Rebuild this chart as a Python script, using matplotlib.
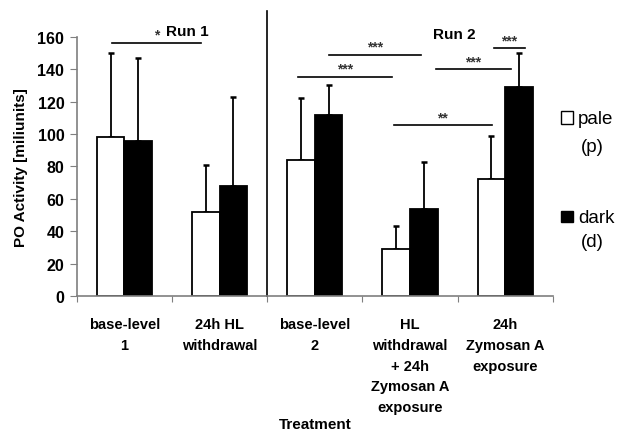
import matplotlib
matplotlib.use('Agg')
from matplotlib import pyplot as plt
from matplotlib.patches import Rectangle
import numpy as np

# categorias e valores
categorias = ['base-level\n1', '24h HL\nwithdrawal', 'base-level\n2',
              'HL\nwithdrawal\n+ 24h\nZymosan A\nexposure', '24h\nZymosan A\nexposure']
pale = [98, 52, 84, 29, 72]
pale_err = [52, 29, 38, 14, 27]
dark = [96, 68, 112, 54, 129]
dark_err = [51, 55, 18, 29, 21]

# linhas de significancia: (x0, x1, y, texto)
sig_x0 = [-0.13, 2.15, 1.82, 3.27, 3.88, 2.83]
sig_x1 = [0.81, 3.12, 2.81, 4.06, 4.21, 3.86]
sig_y = [156.5, 149, 135.5, 140, 153, 105.5]
sig_txt = ['*', '***', '***', '***', '***', '**']

plt.rcParams['font.family'] = ['Liberation Sans', 'DejaVu Sans']
plt.rcParams['font.weight'] = 'bold'
plt.rcParams['axes.labelweight'] = 'bold'

fig = plt.figure(figsize=(6.19, 4.35), dpi=100)
ax = fig.add_axes([0.124, 0.317, 0.769, 0.596])

x = np.arange(len(categorias))
w = 0.29
cinza = '#7f7f7f'

ax.bar(x - w / 2, pale, w, color='white', edgecolor='black', linewidth=1.3, zorder=2)
ax.bar(x + w / 2, dark, w, color='black', edgecolor='black', linewidth=1.3, zorder=2)
ax.errorbar(x - w / 2, pale, yerr=[np.zeros(5), pale_err], fmt='none', ecolor='black',
            elinewidth=1.3, capsize=2.5, capthick=1.8, zorder=1)
ax.errorbar(x + w / 2, dark, yerr=[np.zeros(5), dark_err], fmt='none', ecolor='black',
            elinewidth=1.3, capsize=2.5, capthick=1.8, zorder=1)

# linhas de significancia
for x0, x1, y, t in zip(sig_x0, sig_x1, sig_y, sig_txt):
    ax.plot([x0, x1], [y, y], color='black', lw=1.2, clip_on=False)
    ax.text((x0 + x1) / 2, y + 0.5, t, ha='center', va='bottom', fontsize=10,
            color='#333333')

# divisoria entre Run 1 e Run 2
ax.plot([1.5, 1.5], [0, 176], color='black', lw=1.2, clip_on=False)
ax.text(0.66, 163.5, 'Run 1', ha='center', va='center', fontsize=11)
ax.text(3.47, 162, 'Run 2', ha='center', va='center', fontsize=11)

ax.set_xlim(-0.5, 4.5)
ax.set_ylim(0, 160)
ax.set_yticks(np.arange(0, 161, 20))
ax.set_xticks(np.arange(-0.5, 4.6, 1))
ax.set_xticklabels([])
ax.set_xticks(x, minor=True)
ax.set_xticklabels(categorias, minor=True, fontsize=10.5, linespacing=1.62)
ax.tick_params(axis='x', which='minor', length=0, pad=15)
ax.tick_params(axis='x', which='major', length=4, color=cinza)
ax.tick_params(axis='y', length=5, color=cinza, labelsize=11.5, pad=4)
for s in ['top', 'right']:
    ax.spines[s].set_visible(False)
for s in ['left', 'bottom']:
    ax.spines[s].set_color(cinza)
    ax.spines[s].set_linewidth(1.2)

ax.set_ylabel('PO Activity [miliunits]', fontsize=11, labelpad=7)
fig.text(0.509, 0.023, 'Treatment', ha='center', va='center', fontsize=11)

# legenda manual
fig.add_artist(Rectangle((561 / 619, 1 - 125 / 435), 12 / 619, 13 / 435,
                         transform=fig.transFigure, facecolor='white', edgecolor='black', lw=1))
fig.text(578 / 619, 1 - 120 / 435, 'pale', fontsize=13.5, fontweight='normal', va='center')
fig.text(592 / 619, 1 - 147 / 435, '(p)', fontsize=13.5, fontweight='normal', va='center', ha='center')
fig.add_artist(Rectangle((561 / 619, 1 - 223 / 435), 12 / 619, 11 / 435,
                         transform=fig.transFigure, facecolor='black', edgecolor='black', lw=1))
fig.text(578 / 619, 1 - 219 / 435, 'dark', fontsize=13.5, fontweight='normal', va='center')
fig.text(592 / 619, 1 - 243 / 435, '(d)', fontsize=13.5, fontweight='normal', va='center', ha='center')

fig.savefig('out.png', dpi=100)
